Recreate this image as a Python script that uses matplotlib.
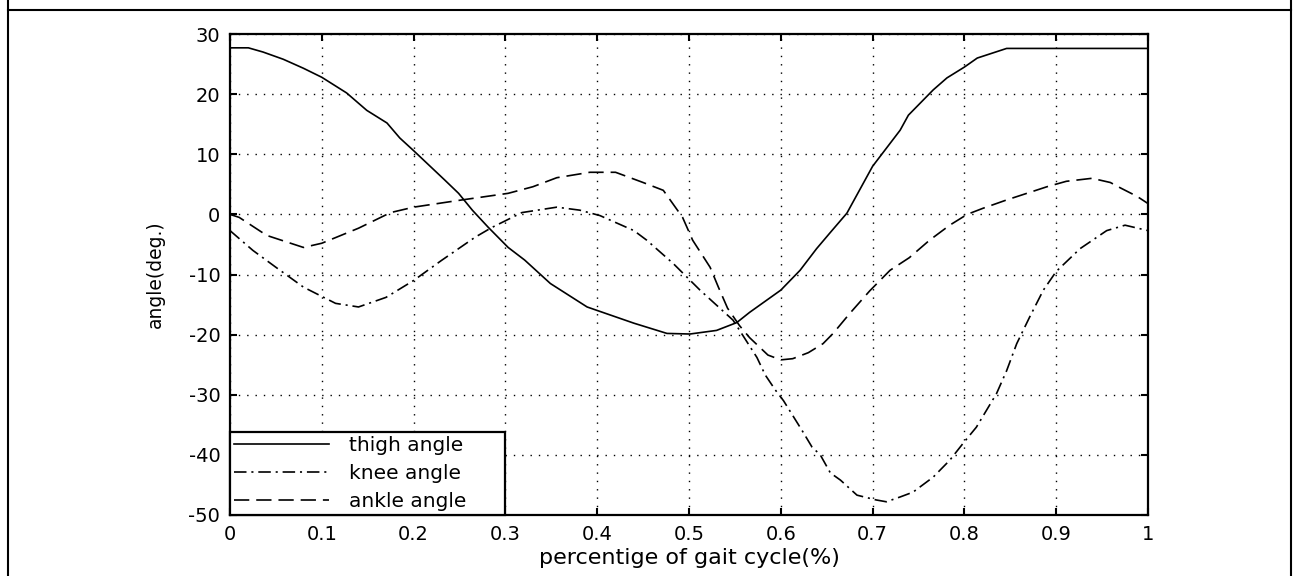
import numpy as np
import matplotlib
matplotlib.use("Agg")
import matplotlib.pyplot as plt
from matplotlib.lines import Line2D

plt.rcParams['font.family'] = ['DejaVu Sans']
plt.rcParams['lines.scale_dashes'] = False
plt.rcParams['axes.unicode_minus'] = False

# values (gait cycle fraction, angle in degrees)
thigh_x = [0.0, 0.02, 0.036, 0.058, 0.08, 0.1, 0.127, 0.149, 0.171, 0.185, 0.2,
           0.234, 0.249, 0.264, 0.281, 0.303, 0.321, 0.349, 0.389, 0.44, 0.476,
           0.501, 0.53, 0.552, 0.566, 0.6, 0.621, 0.639, 0.654, 0.672, 0.7,
           0.73, 0.739, 0.766, 0.781, 0.8, 0.814, 0.846, 1.0]
thigh_y = [27.7, 27.7, 27.0, 25.8, 24.3, 22.8, 20.2, 17.3, 15.2, 12.7, 10.6,
           5.7, 3.5, 0.7, -2.1, -5.5, -7.6, -11.5, -15.4, -18.1, -19.8,
           -19.9, -19.3, -18.0, -16.3, -12.6, -9.3, -5.7, -3.0, 0.2, 8.0,
           14.0, 16.5, 20.7, 22.7, 24.5, 26.0, 27.6, 27.6]

knee_x = [0.0, 0.025, 0.05, 0.08, 0.115, 0.14, 0.17, 0.2, 0.23, 0.267, 0.285,
          0.318, 0.356, 0.381, 0.403, 0.44, 0.454, 0.483, 0.512, 0.548, 0.556,
          0.574, 0.583, 0.594, 0.603, 0.614, 0.623, 0.634, 0.643, 0.654, 0.665,
          0.683, 0.704, 0.715, 0.73, 0.744, 0.766, 0.784, 0.799, 0.813, 0.835,
          0.846, 0.857, 0.871, 0.886, 0.9, 0.926, 0.955, 0.975, 1.0]
knee_y = [-2.7, -6.0, -8.8, -12.1, -14.8, -15.4, -13.8, -11.0, -7.7, -3.8, -2.2,
          0.3, 1.2, 0.7, -0.2, -2.7, -4.3, -8.2, -12.6, -17.6, -19.5,
          -23.8, -26.7, -29.2, -31.0, -33.7, -35.9, -38.7, -40.0, -43.0, -44.2,
          -46.7, -47.5, -47.8, -47.0, -46.2, -43.7, -40.9, -38.0, -35.4, -29.8,
          -26.0, -21.5, -17.1, -12.6, -9.5, -5.7, -2.7, -1.8, -2.7]

ankle_x = [0.0, 0.01, 0.04, 0.08, 0.1, 0.14, 0.175, 0.2, 0.248, 0.303, 0.33,
           0.356, 0.392, 0.42, 0.45, 0.472, 0.493, 0.504, 0.523, 0.532, 0.542,
           0.555, 0.566, 0.586, 0.6, 0.613, 0.63, 0.646, 0.657, 0.675, 0.697,
           0.719, 0.74, 0.762, 0.784, 0.803, 0.82, 0.846, 0.89, 0.911, 0.939,
           0.959, 0.97, 0.988, 1.0]
ankle_y = [0.0, -0.5, -3.5, -5.5, -4.8, -2.3, 0.3, 1.2, 2.3, 3.5, 4.6,
           6.1, 7.0, 7.0, 5.3, 4.0, -0.5, -4.3, -8.8, -12.1, -15.6,
           -18.5, -20.5, -23.4, -24.2, -24.0, -23.0, -21.5, -19.8, -16.5, -12.7,
           -9.3, -7.2, -4.3, -1.8, 0.0, 1.0, 2.4, 4.6, 5.5, 6.0,
           5.3, 4.4, 3.0, 1.8]

labels = ['thigh angle', 'knee angle', 'ankle angle']
xticks = np.round(np.arange(0, 1.01, 0.1), 1)
yticks = np.arange(-50, 31, 10)

fig = plt.figure(figsize=(12.93, 5.76), dpi=100)
ax = fig.add_axes([230 / 1293, 61 / 576, 918 / 1293, 481 / 576])

ax.plot(thigh_x, thigh_y, color='black', lw=1.2, label=labels[0])
ax.plot(knee_x, knee_y, color='black', lw=1.2, dashes=(9, 3.5, 1.5, 3.5),
        label=labels[1])
ax.plot(ankle_x, ankle_y, color='black', lw=1.2, dashes=(11, 5), label=labels[2])

ax.set_xlim(0, 1)
ax.set_ylim(-50, 30)
ax.set_xticks(xticks)
ax.set_xticklabels(['0' if v == 0 else ('1' if v == 1 else f'{v:.1f}') for v in xticks])
ax.set_yticks(yticks)
ax.grid(True, color='black', linestyle=(0, (1, 5)), linewidth=1.0)
ax.tick_params(direction='in', length=5, width=1.5, top=True, right=True,
               labelsize=14, pad=7, colors='black')
for s in ax.spines.values():
    s.set_linewidth(1.6)

ax.set_xlabel('percentige of gait cycle(%)', fontsize=16, labelpad=3)
ax.set_ylabel('angle(deg.)', fontsize=13.5, labelpad=17)

leg = ax.legend(loc='lower left', bbox_to_anchor=(0, 0, 0.3, 0.17), mode='expand',
                borderaxespad=0, fancybox=False, edgecolor='black', framealpha=1,
                fontsize=14.5, handlelength=4.7, handletextpad=1.0, borderpad=0.2,
                labelspacing=0.45)
leg.get_frame().set_linewidth(1.6)

# outer frame of the figure cell
fig.add_artist(Line2D([8 / 1293, 1291 / 1293], [1 - 10 / 576, 1 - 10 / 576],
                      transform=fig.transFigure, color='black', lw=1.5))
for xf in (8 / 1293, 1291 / 1293):
    fig.add_artist(Line2D([xf, xf], [0, 1], transform=fig.transFigure,
                          color='black', lw=1.5))

fig.savefig('out.png', dpi=100)
